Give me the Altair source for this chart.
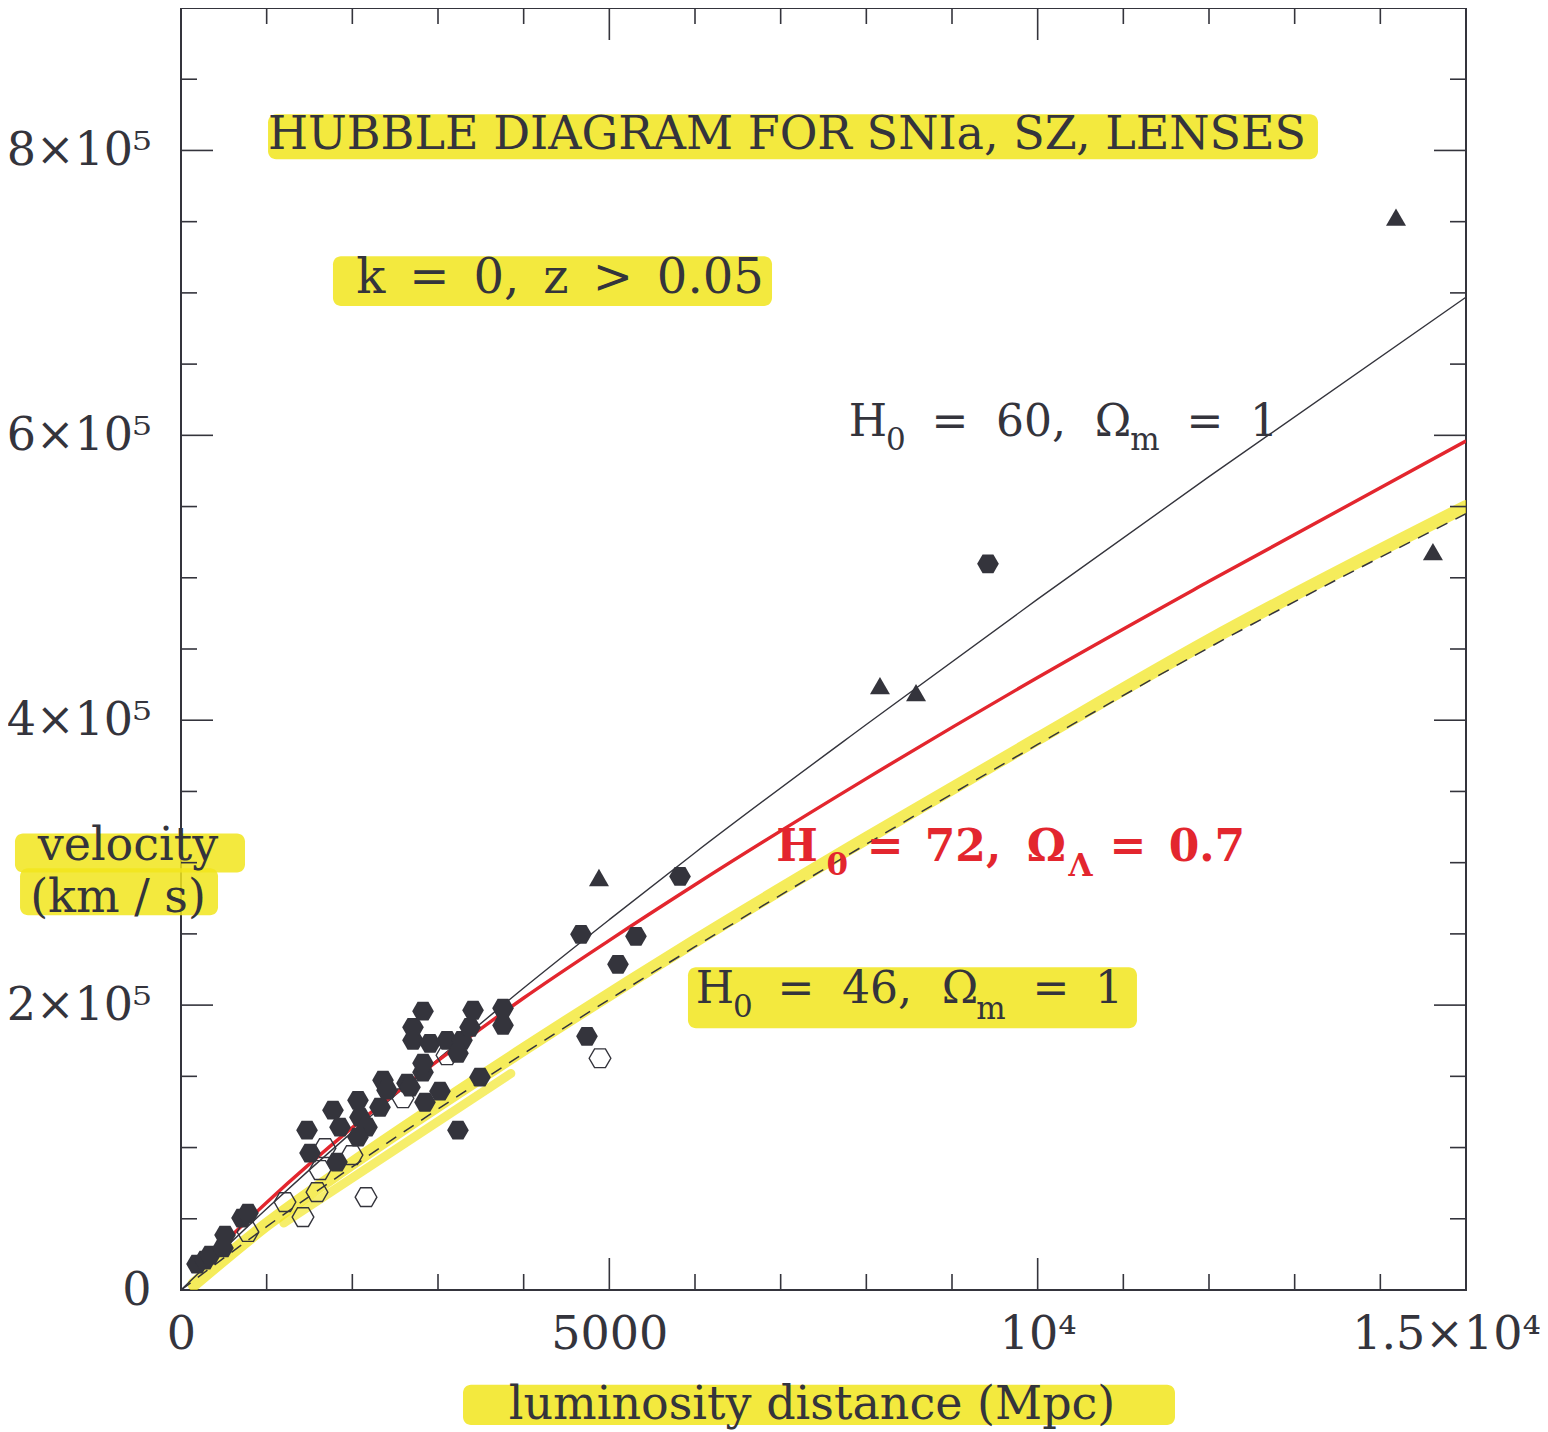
import altair as alt
import pandas as pd

# ---------------- data ----------------
# model curves: luminosity distance (Mpc) -> velocity (km/s)
d_h60 = [0, 1000, 2000, 3000, 4000, 5000, 6000, 8000, 10000, 12000, 15000]
v_h60 = [0, 57000, 111000, 162000, 212000, 260000, 307000, 397000, 485000, 571000, 697000]

d_h72 = [500, 1000, 2000, 3000, 4000, 5000, 6000, 8000, 10000, 12000, 15000]
v_h72 = [33000, 61500, 114000, 161000, 205000, 245500, 284500, 359000, 430000, 497500, 596000]

d_h46 = [0, 1000, 2000, 3000, 4000, 5000, 6000, 8000, 10000, 12000, 15000]
v_h46 = [0, 44500, 86500, 127000, 166000, 204000, 241000, 313000, 383000, 451000, 545000]

# yellow highlighter strokes along the H0=46 curve
hl_d = [150, 1000, 2000, 4000, 6000, 8000, 10000, 12000, 15000]
hl_v = [4000, 46000, 89000, 169000, 245000, 317000, 387000, 456000, 550000]
hl2_d = [1200, 3850]
hl2_v = [47000, 152000]

# SNIa (filled hexagons)
sn_d = [187, 280, 339, 490, 514, 712, 782, 1471, 1506, 1821, 1774, 1856, 2066, 2089,
        2171, 2066, 2358, 2323, 2405, 2638, 2673, 2825, 2848, 3023, 2825, 2708, 2708,
        2825, 2907, 3105, 3280, 3233, 3374, 3409, 3759, 3759, 3490, 3233, 4739, 4669,
        5101, 5311, 5825, 9420]
sn_v = [18200, 21000, 24500, 29500, 38600, 50500, 54000, 112200, 96100, 89800, 126200,
        114300, 133200, 121300, 114300, 107300, 147300, 128300, 140300, 145200, 142400,
        152900, 131800, 139600, 159200, 175300, 184400, 195700, 173200, 175300, 175300,
        166200, 184400, 196400, 197800, 185800, 149400, 112200, 178100, 249700, 228600,
        248300, 290300, 509800]

# SZ (open hexagons)
sz_d = [782, 1214, 1424, 1588, 1623, 1681, 1996, 2160, 2591, 3105, 4891]
sz_v = [40700, 61700, 51200, 68700, 84200, 99600, 94700, 65200, 134600, 164800, 162700]

# lenses (filled triangles)
lens_d = [4879, 8159, 8580, 14183, 14614]
lens_v = [289600, 424300, 419400, 753200, 518300]

# tick values
x_minor = [1000, 2000, 3000, 4000, 6000, 7000, 8000, 9000, 11000, 12000, 13000, 14000]
x_major = [5000, 10000]
y_minor = [50000, 100000, 150000, 250000, 300000, 350000, 450000, 500000, 550000,
           650000, 700000, 750000, 850000]
y_major = [200000, 400000, 600000, 800000]
x_label_vals = [0, 5000, 10000, 15000]
y_label_vals = [0, 200000, 400000, 600000, 800000]

# ---------------- annotations (data coordinates) ----------------
INK = "#34343c"
RED = "#e3262e"
YEL = "#f1e51c"
FONT = "DejaVu Serif"
EN = "\u2002"

texts = [
    # text, x, y, size
    ("HUBBLE DIAGRAM FOR SNIa, SZ, LENSES", 7074, 810700, 46),
    ("k" + EN + "=" + EN + "0," + EN + "z" + EN + ">" + EN + "0.05", 4424, 709700, 48),
    ("velocity", -619, 312000, 46),
    ("(km / s)", -735, 275000, 46),
    ("luminosity distance (Mpc)", 7366, -80650, 46),
    # H0 = 60, Om = 1
    ("H", 8019, 608700, 44), ("0", 8346, 596100, 31), ("=", 8977, 608700, 44),
    ("60,", 9922, 608700, 44), ("Ω", 10879, 608700, 44), ("m", 11253, 596100, 31),
    ("=", 11953, 608700, 44), ("1", 12642, 608700, 44),
    # H0 = 46, Om = 1
    ("H", 6233, 210400, 44), ("0", 6560, 197800, 31), ("=", 7179, 210400, 44),
    ("46,", 8124, 210400, 44), ("Ω", 9093, 210400, 44), ("m", 9455, 196400, 31),
    ("=", 10155, 210400, 44), ("1", 10833, 210400, 44),
]
red_texts = [
    ("H", 7190, 310000, 44), ("0", 7660, 298000, 31), ("=", 8220, 310000, 44),
    ("72,", 9128, 310000, 44), ("Ω", 10100, 310000, 44), ("Λ", 10500, 297300, 31),
    ("=", 11054, 310000, 44), ("0.7", 11976, 310000, 44),
]
highlights = [
    # x, x2, y, y2
    (1016, 13272, 825400, 793900),
    (1774, 6899, 725800, 690800),
    (5918, 11159, 226500, 183700),
    (-1938, 747, 320500, 293100),
    (-1879, 432, 296000, 263000),
    (3292, 11603, -66600, -94700),
]

# ---------------- chart ----------------
W, H = 1285, 1282
xs = alt.Scale(domain=[0, 15000], nice=False, zero=False)
ys = alt.Scale(domain=[0, 900000], nice=False, zero=False)

xaxis = alt.Axis(values=x_label_vals, domain=False, ticks=False, grid=False, title=None,
                 labelPadding=22, labelFlush=False, labelOverlap=False, labelLimit=400,
                 labelOffset={"condition": {"test": "datum.value == 15000", "value": -20},
                              "value": 0},
                 labelExpr="datum.value == 0 ? '0' : datum.value == 5000 ? '5000' : "
                           "datum.value == 10000 ? '10\u2074' : '1.5\u00d710\u2074'")
yaxis = alt.Axis(values=y_label_vals, domain=False, ticks=False, grid=False, title=None,
                 labelPadding=30, labelFlush=False, labelOverlap=False, labelBaseline="middle",
                 labelLimit=400,
                 labelExpr="datum.value == 0 ? '0' : (datum.value / 100000) + '\u00d710\u2075'")


def X(f):
    return alt.X(f, type="quantitative", scale=xs, axis=xaxis)


def Y(f):
    return alt.Y(f, type="quantitative", scale=ys, axis=yaxis)


def line_df(d, v):
    return pd.DataFrame({"d": d, "v": v})


hl_df = pd.DataFrame(highlights, columns=["x", "x2", "y", "y2"])
hl_layer = alt.Chart(hl_df).mark_rect(color=YEL, opacity=0.85, cornerRadius=8).encode(
    x=X("x"), x2="x2", y=Y("y"), y2="y2")

band1 = alt.Chart(line_df(hl_d, hl_v)).mark_line(
    color=YEL, strokeWidth=13, opacity=0.72, clip=True, strokeCap="round",
    interpolate="monotone").encode(x=X("d"), y=Y("v"))
band2 = alt.Chart(line_df(hl2_d, hl2_v)).mark_line(
    color=YEL, strokeWidth=9, opacity=0.65, clip=True, strokeCap="round").encode(x=X("d"), y=Y("v"))

l60 = alt.Chart(line_df(d_h60, v_h60)).mark_line(
    color=INK, strokeWidth=1.4, clip=True, interpolate="monotone").encode(x=X("d"), y=Y("v"))
l72 = alt.Chart(line_df(d_h72, v_h72)).mark_line(
    color=RED, strokeWidth=3.4, clip=True, interpolate="monotone").encode(x=X("d"), y=Y("v"))
l72k = alt.Chart(line_df(d_h72, v_h72)).mark_line(
    color=INK, strokeWidth=1.0, clip=True, interpolate="monotone").encode(x=X("d"), y=Y("v"))
l46 = alt.Chart(line_df(d_h46, v_h46)).mark_line(
    color=INK, strokeWidth=1.5, strokeDash=[12, 9], clip=True, interpolate="monotone").encode(
    x=X("d"), y=Y("v"))

hexagon = "M-1,0L-0.5,-0.866L0.5,-0.866L1,0L0.5,0.866L-0.5,0.866Z"
sn = alt.Chart(line_df(sn_d, sn_v)).mark_point(
    shape=hexagon, size=470, filled=True, color=INK, opacity=1, clip=True).encode(x=X("d"), y=Y("v"))
sz = alt.Chart(line_df(sz_d, sz_v)).mark_point(
    shape=hexagon, size=470, filled=False, color=INK, strokeWidth=1.4, opacity=1, clip=True).encode(
    x=X("d"), y=Y("v"))
lens = alt.Chart(line_df(lens_d, lens_v)).mark_point(
    shape="triangle-up", size=400, filled=True, color=INK, opacity=1, clip=True).encode(
    x=X("d"), y=Y("v"))


def rule_x(vals, y0, y1):
    return alt.Chart(pd.DataFrame({"t": vals})).mark_rule(color=INK, strokeWidth=1.6).encode(
        x=X("t"), y=alt.value(y0), y2=alt.value(y1))


def rule_y(vals, x0, x1):
    return alt.Chart(pd.DataFrame({"t": vals})).mark_rule(color=INK, strokeWidth=1.6).encode(
        y=Y("t"), x=alt.value(x0), x2=alt.value(x1))


MINOR, MAJOR = 16, 32
ticks = [
    rule_x(x_minor, H, H - MINOR), rule_x(x_major, H, H - MAJOR),
    rule_x(x_minor, 0, MINOR), rule_x(x_major, 0, MAJOR),
    rule_y(y_minor, 0, MINOR), rule_y(y_major, 0, MAJOR),
    rule_y(y_minor, W, W - MINOR), rule_y(y_major, W, W - MAJOR),
]

txt_df = pd.DataFrame(texts, columns=["text", "x", "y", "size"])
txt = alt.Chart(txt_df).mark_text(font=FONT, color=INK, align="center",
                                  baseline="middle").encode(
    x=X("x"), y=Y("y"), text="text:N", size=alt.Size("size:Q", scale=None, legend=None))
red_df = pd.DataFrame(red_texts, columns=["text", "x", "y", "size"])
rtxt = alt.Chart(red_df).mark_text(font=FONT, color=RED, fontWeight="bold",
                                   align="center", baseline="middle").encode(
    x=X("x"), y=Y("y"), text="text:N", size=alt.Size("size:Q", scale=None, legend=None))

chart = alt.layer(
    hl_layer, band1, band2, *ticks, l60, l72k, l72, l46, sz, sn, lens, txt, rtxt
).properties(
    width=W, height=H,
    autosize=alt.AutoSizeParams(type="none"),
    padding={"left": 173, "top": 0, "right": 74, "bottom": 142},
    background="white",
).configure_view(
    stroke=INK, strokeWidth=2
).configure_axis(
    labelFont=FONT, labelFontSize=46, labelColor=INK
)

chart.save("out.html", embed_options={"renderer": "svg", "actions": False})
